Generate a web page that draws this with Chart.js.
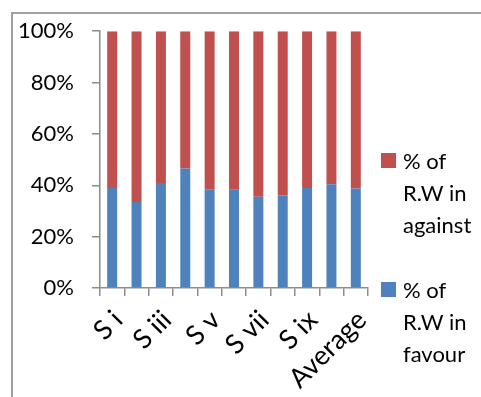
<!DOCTYPE html>
<html>
<head>
<meta charset="utf-8">
<script src="https://cdn.jsdelivr.net/npm/chart.js@4/dist/chart.umd.min.js"></script>
<style>
  html, body { margin:0; padding:0; background:#fff; }
  body { width:481px; height:397px; position:relative; overflow:hidden; font-family: Lato, "Open Sans", sans-serif; }
  #frame { position:absolute; left:11px; top:12px; width:500px; height:420px; border-left:2px solid #a0a0a0; border-top:2px solid #a0a0a0; }
  #wrap { position:absolute; left:0; top:0; width:481px; height:397px; }
  .leg { position:absolute; left:381px; width:100px; }
  .leg .sw { position:absolute; left:0; width:15px; height:15px; }
  .leg .tx { position:absolute; left:22px; width:76px; font-size:22px; line-height:32px; color:#000; }
</style>
</head>
<body>
<div id="frame"></div>
<div id="wrap"><canvas id="c" width="481" height="397"></canvas></div>
<div id="legend"></div>
<script>
const categories = ['S i','S ii','S iii','S iv','S v','S vi','S vii','S viii','S ix','S x','Average'];
const favour  = [38.9, 33.5, 40.9, 46.5, 38.3, 38.3, 35.5, 36.0, 38.9, 40.4, 38.7];
const against = [61.1, 66.5, 59.1, 53.5, 61.7, 61.7, 64.5, 64.0, 61.1, 59.6, 61.3];
const seriesNames = ['% of R.W in favour', '% of R.W in against'];
const seriesColors = ['#4F81BD', '#C0504D'];
const yTicks = [0, 20, 40, 60, 80, 100];

const axisColor = '#8c8c8c';
const font = { family: 'Lato, "Open Sans", sans-serif', size: 22 };
const xfont = { family: 'Lato, "Open Sans", sans-serif', size: 27 };

new Chart(document.getElementById('c'), {
  type: 'bar',
  data: {
    labels: categories,
    datasets: [
      { label: seriesNames[0], data: favour, backgroundColor: seriesColors[0], borderWidth: 0 },
      { label: seriesNames[1], data: against, backgroundColor: seriesColors[1], borderWidth: 0 }
    ]
  },
  options: {
    responsive: false,
    animation: false,
    devicePixelRatio: 1,
    layout: { padding: { left: 10, top: 30, right: 113, bottom: 0 } },
    plugins: { legend: { display: false }, tooltip: { enabled: false } },
    datasets: { bar: { categoryPercentage: 1, barPercentage: 0.41 } },
    scales: {
      x: {
        stacked: true,
        grid: { display: true, drawOnChartArea: false, drawTicks: true, tickLength: 8, color: axisColor, lineWidth: 1.5, offset: true },
        border: { color: axisColor, width: 1.5 },
        ticks: {
          autoSkip: false, maxRotation: 45, minRotation: 45, color: '#000', font: xfont, padding: 8, labelOffset: 6,
          callback: function(v, i) { return i % 2 === 0 ? categories[i] : ''; }
        },
        afterFit: function(s) { s.height = 109; }
      },
      y: {
        stacked: true, min: 0, max: 100,
        afterBuildTicks: function(s) { s.ticks = yTicks.map(v => ({ value: v })); },
        grid: { display: true, drawOnChartArea: false, drawTicks: true, tickLength: 8, color: axisColor, lineWidth: 1.5 },
        border: { color: axisColor, width: 1.5 },
        ticks: { color: '#000', font: font, padding: 18, callback: v => v + '%' },
        afterFit: function(s) { s.width = 90; }
      }
    }
  }
});

// HTML legend (against on top, favour below)
const legend = document.getElementById('legend');
const items = [
  { name: seriesNames[1], color: seriesColors[1], top: 145 },
  { name: seriesNames[0], color: seriesColors[0], top: 274 }
];
items.forEach(it => {
  const d = document.createElement('div');
  d.className = 'leg';
  d.style.top = it.top + 'px';
  const sw = document.createElement('div');
  sw.className = 'sw'; sw.style.background = it.color; sw.style.top = '8px';
  const tx = document.createElement('div');
  tx.className = 'tx'; tx.textContent = it.name;
  d.appendChild(sw); d.appendChild(tx);
  legend.appendChild(d);
});
</script>
</body>
</html>
